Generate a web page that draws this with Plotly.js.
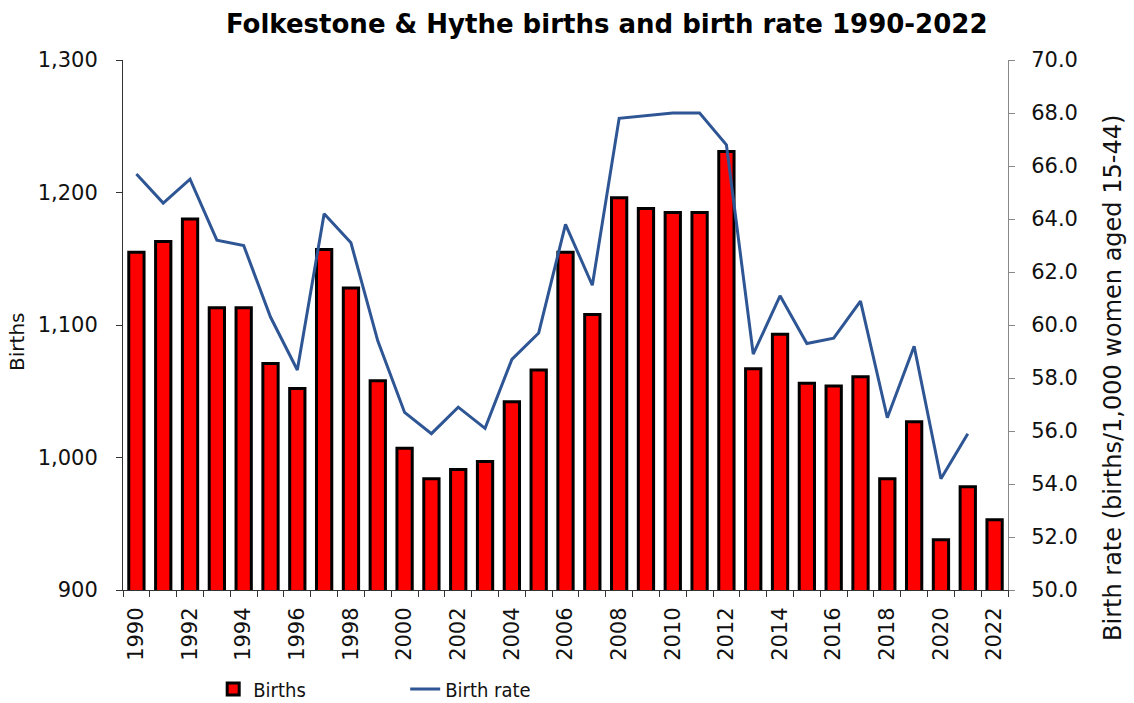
<!DOCTYPE html>
<html>
<head>
<meta charset="utf-8">
<script src="https://cdn.plot.ly/plotly-3.0.1.min.js"></script>
<style>
html,body{margin:0;padding:0;background:#fff;}
#chart{width:1134px;height:703px;}
</style>
</head>
<body>
<div id="chart"></div>
<script>
// Data
const years = [1990,1991,1992,1993,1994,1995,1996,1997,1998,1999,2000,2001,2002,2003,2004,2005,2006,2007,2008,2009,2010,2011,2012,2013,2014,2015,2016,2017,2018,2019,2020,2021,2022];
const tickLabels = ['1990','','1992','','1994','','1996','','1998','','2000','','2002','','2004','','2006','','2008','','2010','','2012','','2014','','2016','','2018','','2020','','2022'];
const births = [1155,1163,1180,1113,1113,1071,1052,1157,1128,1058,1007,984,991,997,1042,1066,1155,1108,1196,1188,1185,1185,1231,1067,1093,1056,1054,1061,984,1027,938,978,953];
const birthRate = [65.7,64.6,65.5,63.2,63.0,60.3,58.3,64.2,63.1,59.4,56.7,55.9,56.9,56.1,58.7,59.7,63.8,61.5,67.8,67.9,68.0,68.0,66.8,58.9,61.1,59.3,59.5,60.9,56.5,59.2,54.2,55.9,null];

const FONT = 'DejaVu Sans, Verdana, Arial, sans-serif';

const traces = [
  {
    type: 'bar',
    name: 'Births',
    x: years,
    y: births,
    marker: {color: '#FF0000', line: {color: '#000000', width: 3}},
    yaxis: 'y'
  },
  {
    type: 'scatter',
    mode: 'lines',
    name: 'Birth rate',
    x: years,
    y: birthRate,
    line: {color: '#2E5594', width: 3},
    yaxis: 'y2',
    connectgaps: false
  }
];

const layout = {
  width: 1134,
  height: 703,
  paper_bgcolor: '#ffffff',
  plot_bgcolor: '#ffffff',
  margin: {l: 123, r: 126, t: 60, b: 113},
  font: {family: FONT, color: '#111111', size: 21},
  bargap: 0.43,
  showlegend: true,
  title: {
    text: 'Folkestone & Hythe births and birth rate 1990-2022',
    font: {family: FONT, size: 26, weight: 'bold', color: '#000000'},
    xref: 'container', yref: 'container',
    x: 0.535, xanchor: 'center',
    y: 0.966, yanchor: 'middle'
  },
  xaxis: {
    type: 'category',
    automargin: false,
    tickmode: 'array',
    tickvals: years,
    ticktext: tickLabels,
    tickangle: -90,
    tickson: 'boundaries',
    ticks: 'outside',
    ticklen: 6,
    tickcolor: '#333333',
    showline: true,
    linecolor: '#333333',
    linewidth: 1,
    showgrid: false,
    zeroline: false,
    ticklabelstandoff: 8,
    tickfont: {family: FONT, size: 21, color: '#111111'}
  },
  yaxis: {
    automargin: false,
    range: [900, 1300],
    dtick: 100,
    tickformat: ',d',
    ticks: 'outside',
    ticklen: 6,
    tickcolor: '#333333',
    showline: true,
    linecolor: '#333333',
    linewidth: 1,
    showgrid: false,
    zeroline: false,
    ticklabelstandoff: 14,
    tickfont: {family: FONT, size: 21, color: '#111111'}
  },
  yaxis2: {
    automargin: false,
    overlaying: 'y',
    side: 'right',
    range: [50, 70],
    dtick: 2,
    tickformat: '.1f',
    ticks: 'outside',
    ticklen: 6,
    tickcolor: '#888888',
    showline: true,
    linecolor: '#888888',
    linewidth: 1,
    showgrid: false,
    zeroline: false,
    ticklabelstandoff: 12,
    tickfont: {family: FONT, size: 21, color: '#111111'}
  },
  legend: {
    orientation: 'h',
    xref: 'container', yref: 'container',
    x: 0.188, xanchor: 'left',
    y: 0.02, yanchor: 'middle',
    itemwidth: 30,
    entrywidth: 147,
    entrywidthmode: 'pixels',
    font: {family: 'Liberation Sans Narrow, Arial Narrow, DejaVu Sans Condensed, sans-serif', size: 20, color: '#111111'},
    bgcolor: 'rgba(0,0,0,0)'
  },
  annotations: [
    {
      text: 'Births',
      xref: 'paper', yref: 'paper',
      x: -0.1198, y: 0.468,
      xanchor: 'center', yanchor: 'middle',
      textangle: -90,
      showarrow: false,
      font: {family: FONT, size: 20, color: '#111111'}
    },
    {
      text: 'Birth rate (births/1,000 women aged 15-44)',
      xref: 'paper', yref: 'paper',
      x: 1.1186, y: 0.4,
      xanchor: 'center', yanchor: 'middle',
      textangle: -90,
      showarrow: false,
      font: {family: FONT, size: 24, color: '#111111'}
    }
  ]
};

Plotly.newPlot('chart', traces, layout, {displayModeBar: false, staticPlot: true});
</script>
</body>
</html>
